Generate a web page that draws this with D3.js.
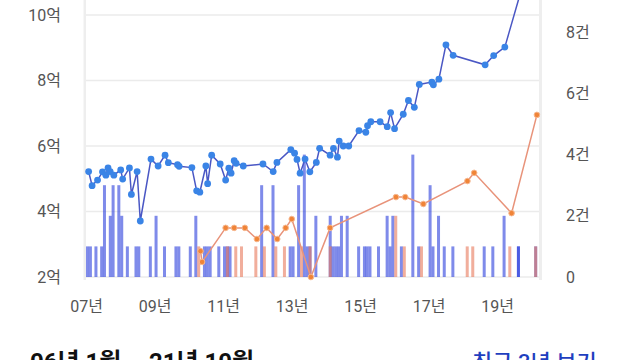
<!DOCTYPE html>
<html><head><meta charset="utf-8">
<script src="https://cdn.jsdelivr.net/npm/d3@7"></script>
<style>
html,body{margin:0;padding:0;background:#fff;overflow:hidden;}
svg{display:block;font-family:Roboto,"Noto Sans CJK KR",sans-serif;}
</style></head><body>
<svg id="chart" width="640" height="360"></svg>
<script>
// 매매 실거래가 (억)
const saleDates = ["2007-01-29","2007-03-07","2007-05-04","2007-06-26","2007-08-01","2007-08-24","2007-09-16","2007-10-25",
"2008-01-06","2008-01-27","2008-04-08","2008-04-29","2008-06-29","2008-08-02","2008-11-24",
"2009-02-08","2009-04-23","2009-05-28","2009-09-03","2009-09-20",
"2010-02-03","2010-03-26","2010-04-29","2010-07-02","2010-07-21","2010-09-02","2010-12-02",
"2011-01-29","2011-03-04","2011-03-28","2011-04-30","2011-05-21","2011-08-05",
"2012-03-02","2012-06-19","2012-07-29","2012-12-24",
"2013-02-02","2013-02-28","2013-04-02","2013-05-25","2013-07-15","2013-09-22","2013-10-27",
"2014-02-16","2014-03-24","2014-05-05","2014-05-24","2014-07-06","2014-09-03","2014-12-21",
"2015-03-04","2015-03-22","2015-04-26","2015-08-03","2015-10-18","2015-11-23",
"2016-01-04","2016-04-06","2016-05-31","2016-08-02","2016-09-24",
"2017-02-05","2017-02-21","2017-04-21","2017-07-05","2017-09-20",
"2018-08-27","2018-11-26","2019-03-25","2019-12-18"];
const salePrices = [5.22,4.79,4.96,5.21,5.11,5.33,5.22,5.11,
5.27,4.99,5.33,4.52,5.22,3.71,5.60,
5.39,5.72,5.49,5.43,5.38,
5.34,4.63,4.59,5.39,4.85,5.72,5.45,
4.96,5.32,5.17,5.55,5.47,5.39,
5.45,5.22,5.50,5.89,
5.78,5.59,5.17,5.60,5.21,5.50,5.93,
5.72,5.93,5.66,6.15,6.00,6.00,6.47,
6.42,6.62,6.74,6.74,6.59,7.02,
6.53,6.97,7.39,7.18,7.88,
7.95,7.87,8.04,9.09,8.77,
8.48,8.76,9.02,11.68];

// 전세 (억)
const rentDates = ["2010-05-06","2010-05-23","2011-01-29","2011-04-30","2011-08-22","2011-12-28",
"2012-04-10","2012-08-01","2012-10-30","2013-01-03","2013-07-26","2014-02-16",
"2016-01-19","2016-04-27","2016-11-06","2018-02-19","2018-05-02","2019-06-05","2020-03-01"];
const rentPrices = [2.79,2.46,3.50,3.50,3.50,3.16,3.50,3.16,3.50,3.77,2.00,3.50,4.44,4.44,4.23,4.93,5.18,3.95,6.95];

// 월별 거래 건수
const saleCountMonths = ["2007-01","2007-02","2007-04","2007-06","2007-07","2007-09","2007-10","2007-12",
"2008-01","2008-03","2008-06","2008-07","2008-11","2009-01","2009-04","2009-08","2009-09",
"2010-01","2010-03","2010-06","2010-07","2010-08","2010-11","2011-01","2011-02","2011-03",
"2012-02","2012-06","2012-12","2013-01","2013-03","2013-05","2013-06","2013-07","2013-09",
"2014-02","2014-03","2014-04","2014-05","2014-06","2014-08","2014-12",
"2015-02","2015-03","2015-04","2015-07","2015-10","2015-11","2015-12",
"2016-03","2016-07","2016-09","2017-01","2017-02","2017-04","2017-06","2017-09",
"2018-08","2018-11","2019-03","2019-08","2019-08","2020-02"];
const saleCounts = [1,1,1,1,3,2,3,3,
2,1,1,1,1,2,1,1,1,
1,2,1,1,1,1,1,1,1,
3,3,1,1,3,4,1,1,2,
2,1,1,1,2,2,1,
1,1,1,1,2,1,2,
1,4,1,3,1,2,1,1,
1,1,2,1,1,1];
const rentCountMonths = ["2010-04","2011-02","2011-05","2011-07","2011-12","2012-03","2012-07","2012-10",
"2013-04","2013-07","2014-02","2016-01","2016-04","2016-10","2018-02","2018-04","2019-05","2020-02"];
const rentCounts = [1,1,1,1,1,1,1,1,1,1,1,2,1,1,1,1,1,1];

const leftTicks = [2,4,6,8,10];
const rightTicks = [0,2,4,6,8];
const xTickYears = [2007,2009,2011,2013,2015,2017,2019];
const footLeft = "06년 1월 ~ 21년 10월";
const footRight = "최근 3년 보기";

const parseD = d3.timeParse("%Y-%m-%d");
const parseM = d3.timeParse("%Y-%m");
const svg = d3.select("#chart");

const x = d3.scaleTime().domain([new Date(2007,0,1), new Date(2020,3,3)]).range([86,540]);
const yL = d3.scaleLinear().domain([2,10]).range([277,15]);
const yR = d3.scaleLinear().domain([0,8]).range([277,32.2]);

// grid
svg.append("g").selectAll("line").data(leftTicks).join("line")
  .attr("x1",86).attr("x2",540).attr("y1",d=>yL(d)).attr("y2",d=>yL(d))
  .attr("stroke","#ebebeb").attr("stroke-width",1.5);
// side borders
svg.append("line").attr("x1",84.8).attr("x2",84.8).attr("y1",0).attr("y2",280).attr("stroke","#eeeeee").attr("stroke-width",2.5);
svg.append("line").attr("x1",540.5).attr("x2",540.5).attr("y1",0).attr("y2",280).attr("stroke","#eeeeee").attr("stroke-width",3);

// bars
const saleBars = saleCountMonths.map((m,i)=>({d:parseM(m),c:saleCounts[i]}));
const rentBars = rentCountMonths.map((m,i)=>({d:parseM(m),c:rentCounts[i]}));
svg.append("g").selectAll("rect").data(saleBars).join("rect")
  .attr("x",d=>x(d.d)).attr("width",3).attr("y",d=>yR(d.c)).attr("height",d=>yR(0)-yR(d.c))
  .attr("fill","#2a3ddc").attr("fill-opacity",0.6);
svg.append("g").selectAll("rect").data(rentBars).join("rect")
  .attr("x",d=>x(d.d)).attr("width",3).attr("y",d=>yR(d.c)).attr("height",d=>yR(0)-yR(d.c))
  .attr("fill","#e8785a").attr("fill-opacity",0.6);

// lines
const salePts = saleDates.map((s,i)=>({d:parseD(s),v:salePrices[i]}));
const rentPts = rentDates.map((s,i)=>({d:parseD(s),v:rentPrices[i]}));
const line = d3.line().x(d=>x(d.d)).y(d=>yL(d.v));
svg.append("path").datum(rentPts).attr("d",line).attr("fill","none").attr("stroke","#e8937a").attr("stroke-width",1.5);
svg.append("g").selectAll("circle").data(rentPts).join("circle")
  .attr("cx",d=>x(d.d)).attr("cy",d=>yL(d.v)).attr("r",2.8)
  .attr("fill","#f08437").attr("stroke","#f7b890").attr("stroke-width",1);
svg.append("path").datum(salePts).attr("d",line).attr("fill","none").attr("stroke","#4a57c4").attr("stroke-width",1.5);
svg.append("g").selectAll("circle").data(salePts).join("circle")
  .attr("cx",d=>x(d.d)).attr("cy",d=>yL(d.v)).attr("r",3.4).attr("fill","#3a84e6");

// axes
const axL = svg.append("g").attr("transform","translate(86,0)")
  .call(d3.axisLeft(yL).tickValues(leftTicks).tickFormat(d=>d+"억").tickSize(0).tickPadding(25));
const axR = svg.append("g").attr("transform","translate(540,0)")
  .call(d3.axisRight(yR).tickValues(rightTicks).tickFormat(d=>d===0?"0":d+"건").tickSize(0).tickPadding(26));
const axB = svg.append("g").attr("transform","translate(0,277)")
  .call(d3.axisBottom(x).tickValues(xTickYears.map(y=>new Date(y,0,1))).tickFormat(d3.timeFormat("%y년")).tickSize(0).tickPadding(24));
[axL,axR,axB].forEach(a=>{
  a.select(".domain").remove();
  a.selectAll("text").attr("font-size",16).attr("fill","#555").attr("font-family",'Roboto,"Noto Sans CJK KR",sans-serif');
});

// footer (cut off at the bottom edge, as in the reference)
svg.append("text").attr("x",30).attr("y",370).attr("font-size",24).attr("font-weight",700)
  .attr("fill","#111").text(footLeft);
svg.append("text").attr("x",472).attr("y",370).attr("font-size",22).attr("font-weight",500)
  .attr("fill","#1f3fbf").text(footRight);
</script>
</body></html>
